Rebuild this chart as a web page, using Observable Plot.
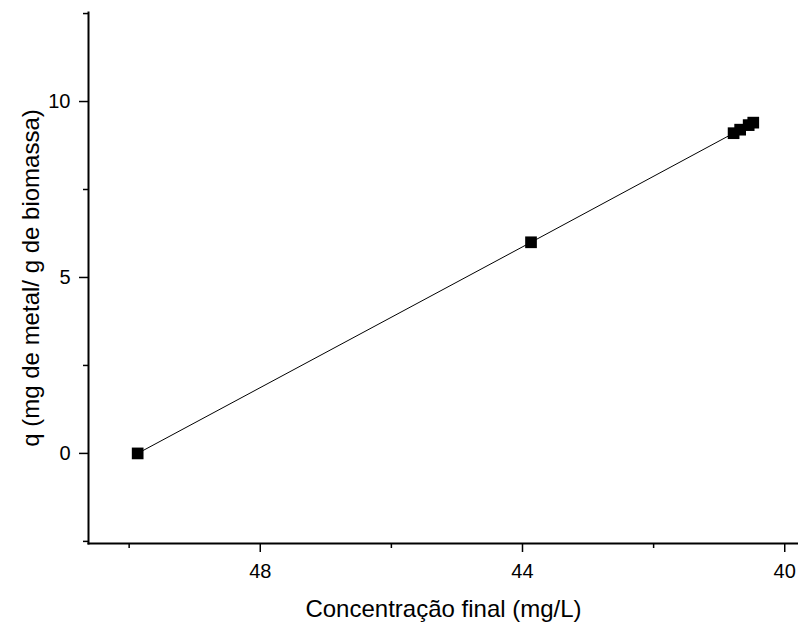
<!DOCTYPE html>
<html>
<head>
<meta charset="utf-8">
<script src="https://cdn.jsdelivr.net/npm/d3@7"></script>
<script src="https://cdn.jsdelivr.net/npm/@observablehq/plot@0.6"></script>
<style>
  html, body { margin: 0; padding: 0; background: #fff; }
  #chart svg { display: block; }
  #chart svg g[aria-label="x-axis tick label"],
  #chart svg g[aria-label="y-axis tick label"] { font-size: 20px; }
  #chart svg g[aria-label="x-axis label"],
  #chart svg g[aria-label="y-axis label"] { font-size: 24px; }
</style>
</head>
<body>
<div id="chart"></div>
<script>
// Data
const concentration = [49.87, 43.87, 40.78, 40.68, 40.55, 40.48];
const qValues = [0.0, 6.0, 9.1, 9.2, 9.33, 9.4];

const xMajorTicks = [48, 44, 40];
const xMinorTicks = [50, 46, 42];
const yMajorTicks = [0, 5, 10];
const yMinorTicks = [-2.5, 2.5, 7.5, 12.5];

const xTitle = "Concentração final (mg/L)";
const yTitle = "q (mg de metal/ g de biomassa)";

const data = concentration.map((c, i) => ({c, q: qValues[i]}));

const chart = Plot.plot({
  width: 798,
  height: 626,
  marginLeft: 88,
  marginRight: 0,
  marginTop: 12,
  marginBottom: 83,
  style: {fontFamily: "'Liberation Sans', Arial, sans-serif", fontSize: "20px", color: "#000", background: "#fff"},
  x: {domain: [50.62, 39.79]},
  y: {domain: [-2.56, 12.53]},
  marks: [
    Plot.axisX({ticks: xMajorTicks, tickSize: 9, tickPadding: 11, fontSize: 20, strokeWidth: 1.5, label: null, tickFormat: d => String(d)}),
    Plot.axisX({ticks: xMinorTicks, tickSize: 5, strokeWidth: 1.5, tickFormat: () => "", label: null}),
    Plot.axisX({ticks: [], label: xTitle, labelAnchor: "center", labelArrow: "none", labelOffset: 73, fontSize: 24}),
    Plot.axisY({ticks: yMajorTicks, tickSize: 9, tickPadding: 9, fontSize: 20, strokeWidth: 1.5, label: null, tickFormat: d => String(d)}),
    Plot.axisY({ticks: yMinorTicks, tickSize: 5, strokeWidth: 1.5, tickFormat: () => "", label: null}),
    Plot.axisY({ticks: [], label: yTitle, labelAnchor: "center", labelArrow: "none", labelOffset: 67, fontSize: 24}),
    Plot.frame({anchor: "left", stroke: "#000", strokeWidth: 2}),
    Plot.frame({anchor: "bottom", stroke: "#000", strokeWidth: 2}),
    Plot.line(data, {x: "c", y: "q", stroke: "#000", strokeWidth: 1}),
    Plot.dot(data, {x: "c", y: "q", symbol: "square", r: 6.6, fill: "#000", stroke: "none"})
  ]
});
document.getElementById("chart").appendChild(chart);
</script>
</body>
</html>
